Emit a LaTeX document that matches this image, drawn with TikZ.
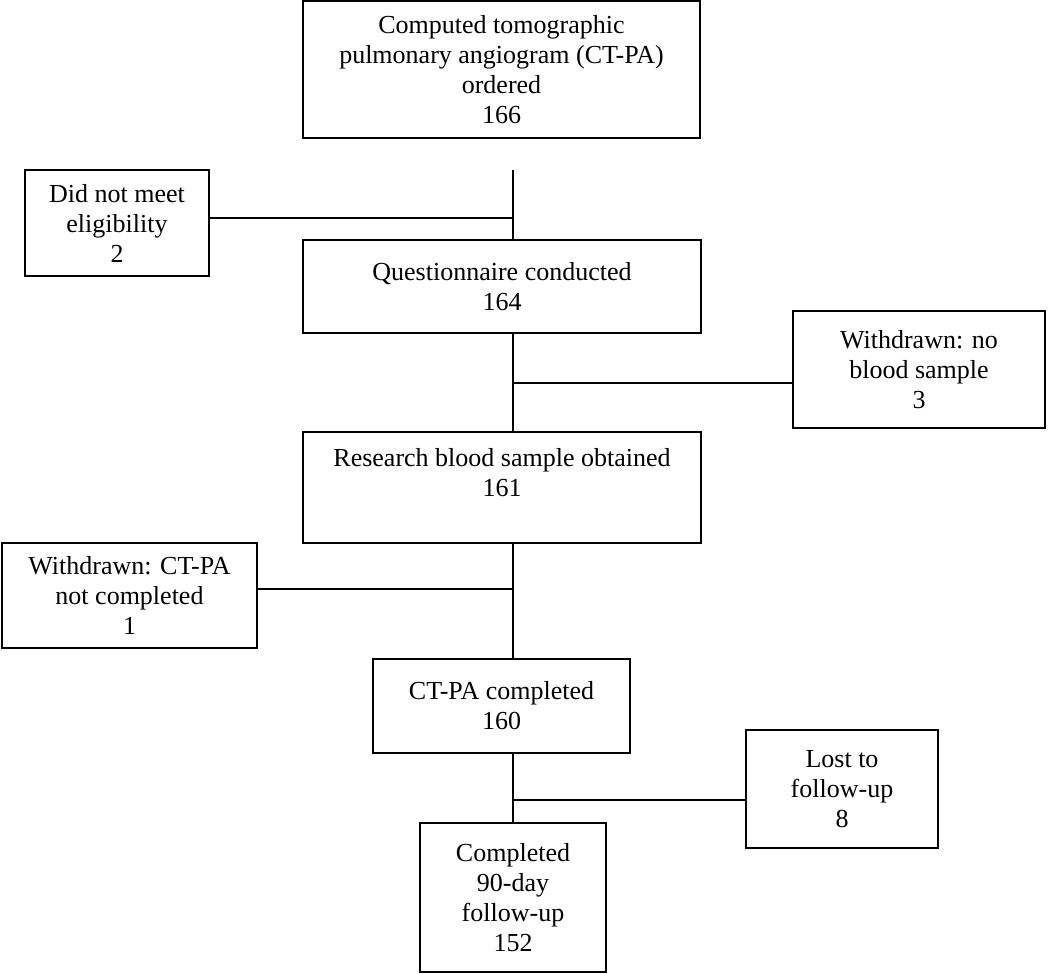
\documentclass[tikz,border=0pt]{standalone}
\usepackage{fontspec}
\setmainfont{Liberation Serif}
\usetikzlibrary{positioning}
\tikzset{
  flowchart/.style={
	x=1pt, y=-1pt, % one unit per pixel, y runs down the page
	line width=2pt, % borders and connectors
	node distance=100pt, % changed on every node below
  },
  stage/.style={draw, line width=2pt, align=center, inner sep=0pt,
	font=\fontsize{26}{30}\selectfont}, % boxes of the flow
}

\begin{document}
\begin{tikzpicture}[flowchart]
	  \useasboundingbox (0,0) rectangle (1050,974);
	  \node[stage, minimum width=397pt, minimum height=137pt] (ordered) at (501.5,69.5) {Computed tomographic\\pulmonary angiogram (CT-PA)\\ordered\\166};
	  \node[stage, minimum width=184pt, minimum height=106pt, below of=ordered, node distance=153.5pt, xshift=-384.5pt] (elig) {Did not meet\\eligibility\\2};
	  \node[stage, minimum width=398pt, minimum height=93pt, below of=ordered, node distance=217pt, xshift=0.5pt] (quest) {Questionnaire conducted\\164};
	  \node[stage, minimum width=252pt, minimum height=117pt, below of=quest, node distance=83pt, xshift=417pt] (nosample) {Withdrawn: no\\blood sample\\3};
	  \node[stage, minimum width=398pt, minimum height=111pt, below of=quest, node distance=201pt] (blood) {Research blood sample obtained\\161\\~};
	  \node[stage, minimum width=255pt, minimum height=105pt, below of=blood, node distance=108pt, xshift=-372.5pt] (noct) {Withdrawn: CT-PA\\not completed\\1};
	  \node[stage, minimum width=257pt, minimum height=94pt, below of=blood, node distance=218.5pt, xshift=-0.5pt] (ctdone) {CT-PA completed\\160};
	  \node[stage, minimum width=192pt, minimum height=118pt, below of=ctdone, node distance=83pt, xshift=340.5pt] (lost) {Lost to\\follow-up\\8};
	  \node[stage, minimum width=186pt, minimum height=149pt, below of=ctdone, node distance=191.5pt, xshift=11.5pt] (done) {Completed\\90-day\\follow-up\\152};
	  \coordinate[below of=ordered, node distance=100.5pt, xshift=11.5pt] (split);

	  % main line
	  \draw (split) -- (quest.north -| done)
		  (quest.south -| done) -- (blood.north -| done)
		  (blood.south -| done) -- (ctdone.north -| done)
		  (ctdone.south -| done) -- (done.north);
	  % exclusions
	  \draw ([yshift=5pt]elig.east) -- ([yshift=5pt]elig.east -| done)
		  ([yshift=-13.5pt]nosample.west) -- ([yshift=-13.5pt]nosample.west -| done)
		  ([yshift=6.5pt]noct.east) -- ([yshift=6.5pt]noct.east -| done)
		  ([yshift=-11pt]lost.west) -- ([yshift=-11pt]lost.west -| done);
	  \end{tikzpicture}
\end{document}
